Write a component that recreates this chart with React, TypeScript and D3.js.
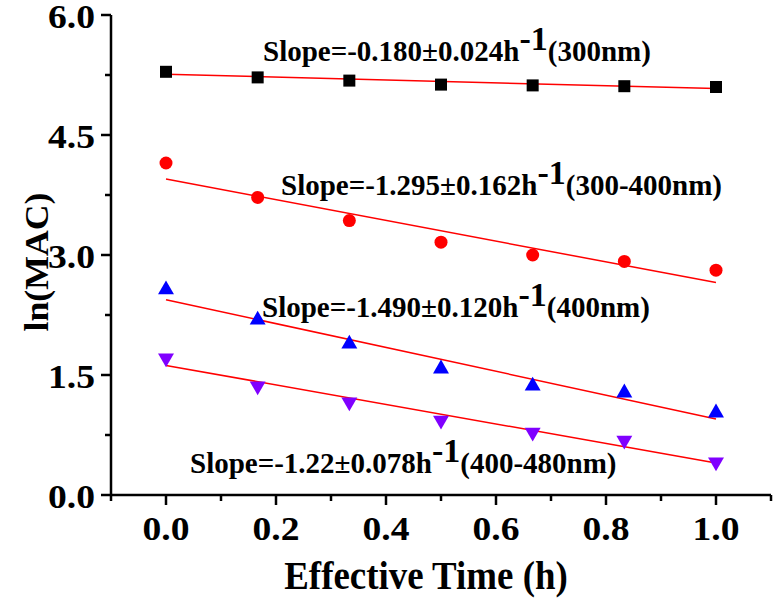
import React from "react";
import * as d3 from "d3";

const times = [0, 1 / 6, 2 / 6, 3 / 6, 4 / 6, 5 / 6, 1];
const s300 = [5.29, 5.22, 5.18, 5.13, 5.12, 5.11, 5.1];
const s300_400 = [4.15, 3.72, 3.43, 3.16, 3.0, 2.92, 2.81];
const s400 = [2.58, 2.2, 1.9, 1.59, 1.375, 1.29, 1.04];
const s400_480 = [1.7, 1.35, 1.15, 0.92, 0.77, 0.67, 0.4];

const fitSlopes = [-0.18, -1.295, -1.49, -1.22];
const fitIntercepts = [5.26, 3.95, 2.44, 1.62];
const slopeText = ["-0.180±0.024", "-1.295±0.162", "-1.490±0.120", "-1.22±0.078"];
const rangeText = ["(300nm)", "(300-400nm)", "(400nm)", "(400-480nm)"];

const xTicks = [0, 0.2, 0.4, 0.6, 0.8, 1.0];
const xMinor = [-0.1, 0.1, 0.3, 0.5, 0.7, 0.9, 1.1];
const yTicks = [0, 1.5, 3.0, 4.5, 6.0];
const yMinor = [0.75, 2.25, 3.75, 5.25];

const FONT = "'Liberation Serif', 'Times New Roman', serif";

export default function App() {
  const x = d3.scaleLinear().domain([-0.1, 1.1]).range([111, 771]);
  const y = d3.scaleLinear().domain([0, 6]).range([495, 15]);
  const series = [s300, s300_400, s400, s400_480];
  const colors = ["#000000", "#ff0000", "#0000ff", "#8000ff"];
  const labelPos = [
    { x: 263, y: 61 },
    { x: 281, y: 195 },
    { x: 262, y: 317 },
    { x: 190, y: 473 },
  ];

  const tri = d3.symbol().type(d3.symbolTriangle).size(110)();
  const marker = (si: number, cx: number, cy: number, k: number) => {
    const c = colors[si];
    if (si === 0) return <rect key={k} x={cx - 6} y={cy - 6} width={12} height={12} fill={c} />;
    if (si === 1) return <circle key={k} cx={cx} cy={cy} r={6.5} fill={c} />;
    if (si === 2) return <path key={k} d={tri as string} transform={`translate(${cx},${cy + 1})`} fill={c} />;
    return <path key={k} d={tri as string} transform={`translate(${cx},${cy - 1}) rotate(180)`} fill={c} />;
  };

  return (
    <svg width={774} height={600} style={{ position: "absolute", left: 0, top: 0, background: "#fff" }}>
      <rect width={774} height={600} fill="#fff" />
      {fitSlopes.map((s, i) => (
        <line
          key={"f" + i}
          x1={x(0)}
          y1={y(fitIntercepts[i])}
          x2={x(1)}
          y2={y(fitIntercepts[i] + s)}
          stroke="#ff0000"
          strokeWidth={1.5}
        />
      ))}
      {series.map((vals, si) => (
        <g key={"s" + si}>{vals.map((v, i) => marker(si, x(times[i]), y(v), i))}</g>
      ))}
      {slopeText.map((t, i) => (
        <text key={"a" + i} x={labelPos[i].x} y={labelPos[i].y} fontFamily={FONT} fontWeight="bold" fontSize={29} fill="#000">
          {"Slope=" + t + "h"}
          <tspan dy={-11} fontSize={34}>-1</tspan>
          <tspan dy={11}>{rangeText[i]}</tspan>
        </text>
      ))}
      <line x1={111} y1={495} x2={771} y2={495} stroke="#000" strokeWidth={2.5} />
      <line x1={111} y1={496} x2={111} y2={15} stroke="#000" strokeWidth={2.5} />
      {xTicks.map((t) => (
        <g key={"xt" + t}>
          <line x1={x(t)} x2={x(t)} y1={495} y2={505} stroke="#000" strokeWidth={2.5} />
          <text
            transform={`translate(${x(t)},540) scale(1.14,1)`}
            textAnchor="middle"
            fontFamily={FONT}
            fontWeight="bold"
            fontSize={33}
          >
            {t.toFixed(1)}
          </text>
        </g>
      ))}
      {xMinor.map((t) => (
        <line key={"xm" + t} x1={x(t)} x2={x(t)} y1={495} y2={501} stroke="#000" strokeWidth={2.5} />
      ))}
      {yTicks.map((t) => (
        <g key={"yt" + t}>
          <line x1={101} x2={111} y1={y(t)} y2={y(t)} stroke="#000" strokeWidth={2.5} />
          <text
            transform={`translate(95,${y(t) + 12.5}) scale(1.14,1)`}
            textAnchor="end"
            fontFamily={FONT}
            fontWeight="bold"
            fontSize={33}
          >
            {t.toFixed(1)}
          </text>
        </g>
      ))}
      {yMinor.map((t) => (
        <line key={"ym" + t} x1={105} x2={111} y1={y(t)} y2={y(t)} stroke="#000" strokeWidth={2.5} />
      ))}
      <text
        transform="translate(426,589) scale(0.9,1)"
        textAnchor="middle"
        fontFamily={FONT}
        fontWeight="bold"
        fontSize={41}
      >
        Effective Time (h)
      </text>
      <text
        transform="translate(48,262) rotate(-90) scale(1.05,1)"
        textAnchor="middle"
        fontFamily={FONT}
        fontWeight="bold"
        fontSize={34}
      >
        ln(MAC)
      </text>
    </svg>
  );
}
